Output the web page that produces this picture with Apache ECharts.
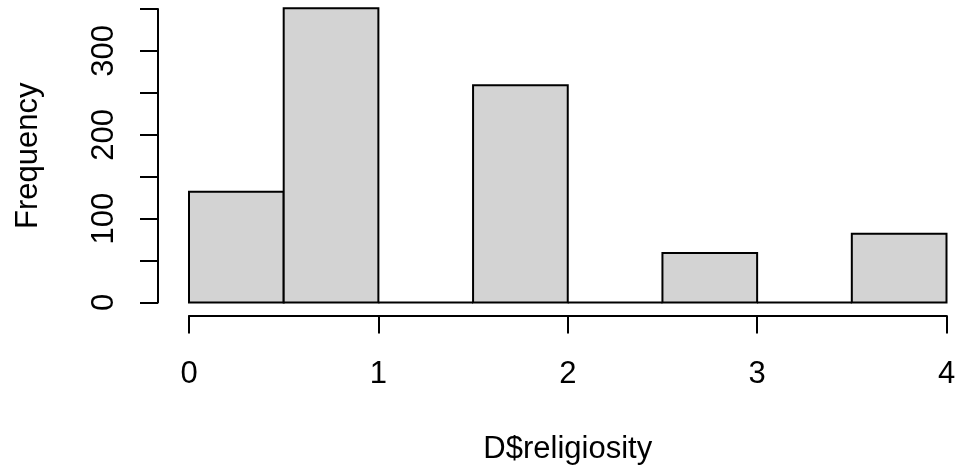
<!DOCTYPE html>
<html>
<head>
<meta charset="utf-8">
<script src="https://cdn.jsdelivr.net/npm/echarts@6/dist/echarts.min.js"></script>
<style>
html,body{margin:0;padding:0;background:#fff;}
#chart{width:956px;height:471px;}
</style>
</head>
<body>
<div id="chart"></div>
<script>
// Histogram bins (D$religiosity) and counts
var binStart = [0, 0.5, 1, 1.5, 2, 2.5, 3, 3.5];
var binEnd   = [0.5, 1, 1.5, 2, 2.5, 3, 3.5, 4];
var counts   = [132, 351, 0, 259, 0, 59, 0, 82];
var xTicks = [0, 1, 2, 3, 4];
var yTicks = [0, 50, 100, 150, 200, 250, 300, 350];
var yLabelled = [0, 100, 200, 300];

var data = binStart.map(function (s, i) { return [s, binEnd[i], counts[i]]; });
var FONT = 'Liberation Sans, Arial, Helvetica, sans-serif';
var FS = 31;

var chart = echarts.init(document.getElementById('chart'), null, {renderer: 'canvas'});
chart.setOption({
  animation: false,
  backgroundColor: '#ffffff',
  grid: {left: 189, top: 9, width: 757.5, height: 293.5, containLabel: false, outerBoundsMode: 'none'},
  xAxis: {
    type: 'value', min: xTicks[0], max: xTicks[xTicks.length - 1], interval: 1,
    offset: 13,
    name: 'D$religiosity', nameLocation: 'middle', nameGap: 118,
    nameTextStyle: {fontFamily: FONT, fontSize: FS, color: '#000'},
    axisLine: {show: true, onZero: false, lineStyle: {color: '#000', width: 2}},
    axisTick: {show: true, length: 18, lineStyle: {color: '#000', width: 2}},
    axisLabel: {margin: 43, fontFamily: FONT, fontSize: FS, color: '#000'},
    splitLine: {show: false}
  },
  yAxis: {
    type: 'value', min: yTicks[0], max: yTicks[yTicks.length - 1], interval: 50,
    offset: 31,
    name: 'Frequency', nameLocation: 'middle', nameGap: 114, nameRotate: 90,
    nameTextStyle: {fontFamily: FONT, fontSize: FS, color: '#000'},
    axisLine: {show: true, onZero: false, lineStyle: {color: '#000', width: 2}},
    axisTick: {show: true, length: 18, lineStyle: {color: '#000', width: 2}},
    axisLabel: {
      margin: 38, rotate: 90, fontFamily: FONT, fontSize: FS, color: '#000',
      formatter: function (v) { return yLabelled.indexOf(v) >= 0 ? String(v) : ''; }
    },
    splitLine: {show: false}
  },
  series: [{
    type: 'custom',
    clip: false,
    data: data,
    encode: {x: [0, 1], y: 2},
    renderItem: function (params, api) {
      var p0 = api.coord([api.value(0), api.value(2)]);
      var p1 = api.coord([api.value(1), 0]);
      return {
        type: 'rect',
        shape: {x: p0[0], y: p0[1], width: p1[0] - p0[0], height: p1[1] - p0[1]},
        style: {fill: '#D3D3D3', stroke: '#000', lineWidth: 2}
      };
    }
  }]
});
</script>
</body>
</html>
